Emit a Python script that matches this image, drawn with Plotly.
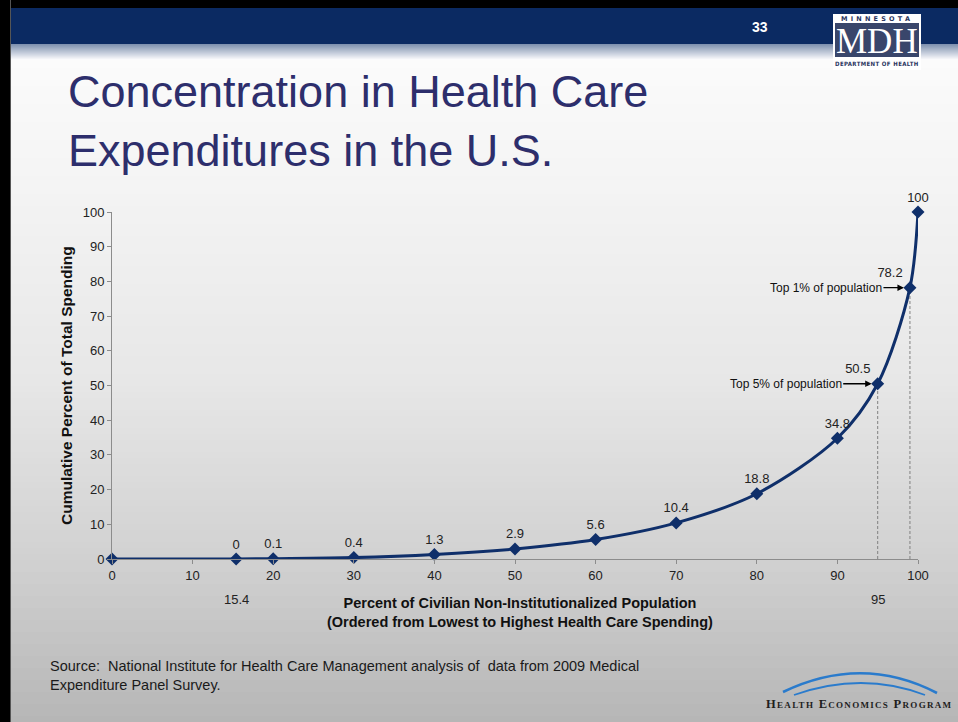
import plotly.graph_objects as go

# Cumulative share of spending by population percentile
pop_pct = [0, 15.4, 20, 30, 40, 50, 60, 70, 80, 90, 95, 99, 100]
spend_pct = [0, 0, 0.1, 0.4, 1.3, 2.9, 5.6, 10.4, 18.8, 34.8, 50.5, 78.2, 100]
point_labels = ["", "0", "0.1", "0.4", "1.3", "2.9", "5.6", "10.4", "18.8", "34.8", "50.5", "78.2", "100"]
label_pos = ["top center"] * 10 + ["top left", "top left", "top center"]

x_ticks = list(range(0, 101, 10))
y_ticks = list(range(0, 101, 10))
extra_x_labels = [15.4, 95]
callouts = [(99, 78.2, "Top 1% of population", -84), (95, 50.5, "Top 5% of population", -92)]

W, H = 958, 722
NAVY = "#0b2a62"
LINE = "#0f2f6a"
FONT = "Liberation Sans, Arial, sans-serif"


def px(x):
    return x / W


def py(y):
    return 1 - y / H


shapes = []
annotations = []


def band(x0, y0, x1, y1, color):
    shapes.append(dict(type="rect", xref="paper", yref="paper", x0=px(x0), x1=px(x1),
                       y0=py(y1), y1=py(y0), fillcolor=color, line=dict(width=0), layer="below"))


def label(x, y, text, size, color="#111111", family=FONT, xanchor="center", yanchor="middle", **kw):
    annotations.append(dict(x=px(x), y=py(y), xref="paper", yref="paper", xanchor=xanchor,
                            yanchor=yanchor, text=text, showarrow=False,
                            font=dict(family=family, size=size, color=color, **kw.pop("font_extra", {})),
                            **kw))


# slide background gradient (light at top, grey at bottom)
stops = [(44, 252), (200, 243), (380, 231), (560, 209), (722, 182)]
step = 6
y = 44
while y < H:
    yc = y + step / 2
    v = stops[-1][1]
    for (a, va), (b, vb) in zip(stops[:-1], stops[1:]):
        if a <= yc <= b:
            v = va + (vb - va) * (yc - a) / (b - a)
            break
    g = int(round(v))
    band(0, y, W, min(y + step, H), f"rgb({g},{g},{g})")
    y += step

# header: black frame, navy bar, fade below it
band(0, 0, W, 8, "#000000")
band(10, 8, W, 44, NAVY)
fade_top = (128, 146, 176)
fade_bot = (250, 250, 252)
for i in range(16):
    t = i / 15
    c = tuple(int(round(fade_top[k] + (fade_bot[k] - fade_top[k]) * t)) for k in range(3))
    band(10, 44 + i, W, 45 + i, f"rgb{c}")
band(0, 0, 10, H, "#000000")
band(10, 0, 11, H, "#555555")

# MDH logo
band(833, 14, 921, 70, "#ffffff")
band(835, 23, 919, 57, "#39466b")
label(877, 19, '<b><span style="letter-spacing:3.2px">MINNESOTA</span></b>', 6.5, "#2a3560", "DejaVu Sans")
label(877, 41, "MDH", 35, "#ffffff", "Liberation Serif, serif")
label(877, 63.5, '<b><span style="letter-spacing:0.4px">DEPARTMENT OF HEALTH</span></b>', 6, "#2a3560",
      "DejaVu Sans Condensed, DejaVu Sans")
label(760, 27, "<b>33</b>", 14, "#ffffff")

# Health Economics Program logo arcs
def arc(x0, y0, cx, cy, x1, y1, w, color):
    shapes.append(dict(type="path", xref="paper", yref="paper",
                       path=f"M {px(x0)},{py(y0)} Q {px(cx)},{py(cy)} {px(x1)},{py(y1)}",
                       line=dict(color=color, width=w), layer="above"))


arc(783, 692, 862, 654, 937, 693, 2.6, "#2a7bcc")
arc(794, 695, 862, 671, 925, 695, 1.8, "#2a7bcc")
label(859, 704, '<b><span style="letter-spacing:1.3px">Health Economics Program</span></b>', 12.5,
      "#1e1e1e", "Liberation Serif, serif", font_extra=dict(variant="small-caps"))

# slide title
label(66, 64, "Concentration in Health Care<br>Expenditures in the U.S.", 45, "#2d2e6c",
      xanchor="left", yanchor="top", align="left")

# source note
label(48, 656, "Source:  National Institute for Health Care Management analysis of  data from 2009 Medical"
               "<br>Expenditure Panel Survey.", 14.5, "#1a1a1a", xanchor="left", yanchor="top", align="left")

# axis titles
label(66, 386, "<b>Cumulative Percent of Total Spending</b>", 15.5, textangle=-90)
label(520, 612, "<b>Percent of Civilian Non-Institutionalized Population<br>"
                "(Ordered from Lowest to Highest Health Care Spending)</b>", 14.5)

# second-row x labels for the non-decile points
for xv in extra_x_labels:
    annotations.append(dict(x=xv, y=0, xref="x", yref="y", yshift=-40, xanchor="center",
                            yanchor="middle", text=f"{xv:g}", showarrow=False,
                            font=dict(family=FONT, size=13, color="#222222")))

# callout arrows
for xv, yv, txt, ax in callouts:
    annotations.append(dict(x=xv, y=yv, xref="x", yref="y", ax=ax, ay=0, text=txt,
                            showarrow=True, arrowhead=2, arrowsize=1, arrowwidth=1.3,
                            arrowcolor="#000000", standoff=6,
                            font=dict(family=FONT, size=12, color="#111111")))

# dotted drop lines for top 5% / top 1%
for xv, yv in zip(pop_pct, spend_pct):
    if xv in (95, 99):
        shapes.append(dict(type="line", xref="x", yref="y", x0=xv, x1=xv, y0=0, y1=yv,
                           line=dict(color="#808080", width=1, dash="3px,2px"), layer="below"))

fig = go.Figure(go.Scatter(
    x=pop_pct, y=spend_pct, mode="lines+markers+text",
    line=dict(color=LINE, width=3, shape="spline", smoothing=0.9),
    marker=dict(symbol="diamond", size=10, color=LINE),
    text=point_labels, textposition=label_pos,
    textfont=dict(family=FONT, size=13, color="#222222"),
    cliponaxis=False, hoverinfo="skip",
))

axis_common = dict(showgrid=False, zeroline=False, showline=True, linecolor="#8c8c8c", linewidth=1,
                   ticks="outside", ticklen=4, tickcolor="#8c8c8c", automargin=False,
                   tickfont=dict(family=FONT, size=13, color="#222222"), fixedrange=True)

fig.update_layout(
    width=W, height=H, autosize=False,
    margin=dict(l=0, r=0, t=0, b=0, pad=0, autoexpand=False),
    paper_bgcolor="#b6b6b6", plot_bgcolor="rgba(0,0,0,0)", showlegend=False,
    xaxis=dict(domain=[px(112), px(918)], range=[0, 100], tickvals=x_ticks, **axis_common),
    yaxis=dict(domain=[py(559), py(212)], range=[0, 100], tickvals=y_ticks, **axis_common),
    shapes=shapes, annotations=annotations,
)

fig.write_html("out.html", config={"responsive": False, "displayModeBar": False})
